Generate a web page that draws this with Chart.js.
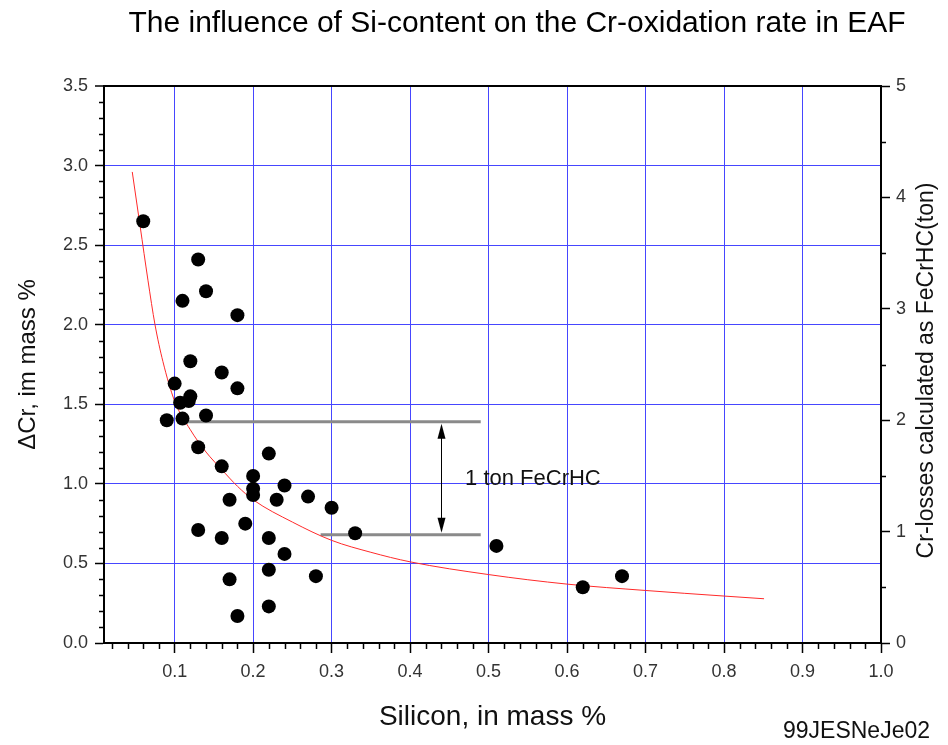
<!DOCTYPE html>
<html>
<head>
<meta charset="utf-8">
<title>Si-content vs Cr-oxidation in EAF</title>
<script src="https://cdn.jsdelivr.net/npm/chart.js@4.4.1/dist/chart.umd.min.js"></script>
<style>
  html, body { margin: 0; padding: 0; background: #fff; }
  canvas { display: block; }
</style>
</head>
<body>
<canvas id="myChart" width="948" height="745"></canvas>
<script>
// measured heats: Si content (mass %) vs delta Cr (mass %)
const siContent = [0.06, 0.13, 0.14, 0.11, 0.18, 0.12, 0.16, 0.18, 0.10, 0.12, 0.118, 0.107,
    0.14, 0.09, 0.11, 0.13, 0.16, 0.22, 0.20, 0.20, 0.20, 0.24, 0.17, 0.23, 0.27, 0.30,
    0.19, 0.13, 0.16, 0.22, 0.33, 0.24, 0.22, 0.17, 0.28, 0.18, 0.22, 0.51, 0.62, 0.67];
const deltaCr = [2.65, 2.41, 2.21, 2.15, 2.06, 1.77, 1.70, 1.60, 1.63, 1.55, 1.52, 1.51,
    1.43, 1.40, 1.41, 1.23, 1.11, 1.19, 1.05, 0.97, 0.93, 0.99, 0.90, 0.90, 0.92, 0.85,
    0.75, 0.71, 0.66, 0.66, 0.69, 0.56, 0.46, 0.40, 0.42, 0.17, 0.23, 0.61, 0.35, 0.42];

// red trend curve
const fitSi = [0.046, 0.056, 0.066, 0.075, 0.085, 0.1, 0.12, 0.14, 0.16, 0.18, 0.2,
    0.25, 0.3, 0.35, 0.4, 0.5, 0.6, 0.7, 0.8, 0.851];
const fitCr = [2.96, 2.62, 2.28, 2.00, 1.77, 1.52, 1.34, 1.20, 1.09, 0.985, 0.90,
    0.76, 0.645, 0.57, 0.51, 0.43, 0.37, 0.33, 0.295, 0.278];

// grey marker lines (1 ton FeCrHC apart)
const upperLineSi = [0.115, 0.49];
const upperLineCr = [1.39, 1.39];
const lowerLineSi = [0.286, 0.49];
const lowerLineCr = [0.68, 0.68];

// double arrow between the grey lines
const arrowSi = 0.44;
const arrowCr = [1.39, 0.68];
const arrowLabel = "1 ton FeCrHC";
const arrowLabelSi = 0.47;
const arrowLabelCr = 1.03;

// axes
const xTicks = [0.1, 0.2, 0.3, 0.4, 0.5, 0.6, 0.7, 0.8, 0.9, 1.0];
const yTicks = [0, 0.5, 1.0, 1.5, 2.0, 2.5, 3.0, 3.5];
const y2Ticks = [0, 1, 2, 3, 4, 5];
const xMinorStep = 0.02;
const yMinorStep = 0.1;
const y2MinorStep = 0.5;

const gridBlue = "#4646ff";
const fontFamily = "'Liberation Sans', Arial, Helvetica, sans-serif";

function toXY(xs, ys) {
    return xs.map((v, i) => ({ x: v, y: ys[i] }));
}

function isMultiple(v, step) {
    const r = v / step;
    return Math.abs(r - Math.round(r)) < 1e-6;
}

// minor ticks, arrow, titles and small labels
const extrasPlugin = {
    id: "extras",
    afterDraw(chart) {
        const ctx = chart.ctx;
        const { x, y, y2 } = chart.scales;
        const area = chart.chartArea;
        ctx.save();

        // minor ticks
        ctx.strokeStyle = "#000";
        ctx.lineWidth = 1.5;
        ctx.beginPath();
        for (let v = xMinorStep; v < x.max - 1e-6; v += xMinorStep) {
            if (isMultiple(v, 0.1)) continue;
            const px = Math.round(x.getPixelForValue(v)) + 0.5;
            ctx.moveTo(px, area.bottom);
            ctx.lineTo(px, area.bottom + 6);
        }
        for (let v = yMinorStep; v < y.max - 1e-6; v += yMinorStep) {
            if (isMultiple(v, 0.5)) continue;
            const py = Math.round(y.getPixelForValue(v)) + 0.5;
            ctx.moveTo(area.left, py);
            ctx.lineTo(area.left - 5, py);
        }
        for (let v = y2MinorStep; v < y2.max - 1e-6; v += y2MinorStep) {
            if (isMultiple(v, 1)) continue;
            const py = Math.round(y2.getPixelForValue(v)) + 0.5;
            ctx.moveTo(area.right, py);
            ctx.lineTo(area.right + 5, py);
        }
        ctx.stroke();

        // double arrow
        const ax = Math.round(x.getPixelForValue(arrowSi)) + 0.5;
        const aTop = y.getPixelForValue(arrowCr[0]);
        const aBot = y.getPixelForValue(arrowCr[1]);
        const headLen = 15, headHalf = 4;
        ctx.lineWidth = 1;
        ctx.beginPath();
        ctx.moveTo(ax, aTop + headLen);
        ctx.lineTo(ax, aBot - headLen);
        ctx.stroke();
        ctx.fillStyle = "#000";
        ctx.beginPath();
        ctx.moveTo(ax, aTop + 2);
        ctx.lineTo(ax - headHalf, aTop + headLen + 2);
        ctx.lineTo(ax + headHalf, aTop + headLen + 2);
        ctx.closePath();
        ctx.fill();
        ctx.beginPath();
        ctx.moveTo(ax, aBot - 2);
        ctx.lineTo(ax - headHalf, aBot - headLen - 2);
        ctx.lineTo(ax + headHalf, aBot - headLen - 2);
        ctx.closePath();
        ctx.fill();

        // arrow label
        ctx.fillStyle = "#111";
        ctx.font = "22px " + fontFamily;
        ctx.textAlign = "left";
        ctx.textBaseline = "middle";
        ctx.fillText(arrowLabel, x.getPixelForValue(arrowLabelSi), y.getPixelForValue(arrowLabelCr));

        // chart title
        ctx.fillStyle = "#000";
        ctx.font = "30px " + fontFamily;
        ctx.textAlign = "center";
        ctx.fillText("The influence of Si-content on the Cr-oxidation rate in EAF", 517, 24);

        // figure code, bottom right
        ctx.fillStyle = "#111";
        ctx.font = "23px " + fontFamily;
        ctx.textAlign = "right";
        ctx.fillText("99JESNeJe02", 930, 732);

        // right axis title, reading bottom to top
        ctx.save();
        ctx.translate(927, (area.top + area.bottom) / 2 + 6);
        ctx.rotate(-Math.PI / 2);
        ctx.textAlign = "center";
        ctx.font = "23px " + fontFamily;
        ctx.fillText("Cr-losses calculated as FeCrHC(ton)", 0, 0);
        ctx.restore();

        ctx.restore();
    }
};

const tickFont = { family: fontFamily, size: 18 };

const config = {
    type: "scatter",
    data: {
        datasets: [
            {
                label: "heats",
                data: toXY(siContent, deltaCr),
                backgroundColor: "#000",
                borderWidth: 0,
                pointRadius: 7
            },
            {
                label: "trend",
                data: toXY(fitSi, fitCr),
                showLine: true,
                borderColor: "#ff2a2a",
                borderWidth: 1,
                pointRadius: 0,
                cubicInterpolationMode: "monotone"
            },
            {
                label: "upper",
                data: toXY(upperLineSi, upperLineCr),
                showLine: true,
                borderColor: "#8a8a8a",
                borderWidth: 3,
                pointRadius: 0
            },
            {
                label: "lower",
                data: toXY(lowerLineSi, lowerLineCr),
                showLine: true,
                borderColor: "#8a8a8a",
                borderWidth: 3,
                pointRadius: 0
            }
        ]
    },
    options: {
        responsive: false,
        animation: false,
        devicePixelRatio: 1,
        layout: { padding: { top: 86, left: 0, right: 0, bottom: 0 } },
        plugins: {
            legend: { display: false },
            tooltip: { enabled: false }
        },
        scales: {
            x: {
                type: "linear",
                position: "bottom",
                min: 0.01,
                max: 1.0,
                afterBuildTicks: (scale) => { scale.ticks = xTicks.map(v => ({ value: v })); },
                afterFit: (scale) => { scale.height = 102; },
                ticks: {
                    font: tickFont,
                    color: "#333",
                    padding: 8,
                    maxRotation: 0,
                    callback: (v) => Number(v).toFixed(1)
                },
                grid: {
                    color: (c) => (c.tick && c.tick.value >= 1.0 ? "rgba(0,0,0,0)" : gridBlue),
                    lineWidth: 1,
                    tickColor: "#000",
                    tickLength: 10,
                    tickWidth: 1.5
                },
                border: { color: "#000", width: 2 },
                title: {
                    display: true,
                    text: "Silicon, in mass %",
                    font: { family: fontFamily, size: 28 },
                    color: "#111",
                    padding: { top: 0, bottom: 11 }
                }
            },
            y: {
                type: "linear",
                position: "left",
                min: 0,
                max: 3.5,
                afterBuildTicks: (scale) => { scale.ticks = yTicks.map(v => ({ value: v })); },
                afterFit: (scale) => { scale.width = 104; },
                ticks: {
                    font: tickFont,
                    color: "#333",
                    padding: 7,
                    callback: (v) => Number(v).toFixed(1)
                },
                grid: {
                    color: (c) => {
                        if (!c.tick) return gridBlue;
                        if (c.tick.value >= 3.5) return "#000";
                        if (c.tick.value <= 0) return "rgba(0,0,0,0)";
                        return gridBlue;
                    },
                    lineWidth: (c) => (c.tick && c.tick.value >= 3.5 ? 2 : 1),
                    tickColor: "#000",
                    tickLength: 9,
                    tickWidth: 1.5
                },
                border: { color: "#000", width: 2 },
                title: {
                    display: true,
                    text: "\u0394Cr, im mass %",
                    font: { family: fontFamily, size: 24 },
                    color: "#111",
                    padding: { top: 14, bottom: 0 }
                }
            },
            y2: {
                type: "linear",
                position: "right",
                min: 0,
                max: 5,
                afterBuildTicks: (scale) => { scale.ticks = y2Ticks.map(v => ({ value: v })); },
                afterFit: (scale) => { scale.width = 67; },
                ticks: {
                    font: tickFont,
                    color: "#333",
                    padding: 6,
                    callback: (v) => String(v)
                },
                grid: {
                    drawOnChartArea: false,
                    tickColor: "#000",
                    tickLength: 9,
                    tickWidth: 1.5
                },
                border: { color: "#000", width: 2 }
            }
        }
    },
    plugins: [extrasPlugin]
};

const chart = new Chart(document.getElementById("myChart").getContext("2d"), config);
</script>
</body>
</html>
